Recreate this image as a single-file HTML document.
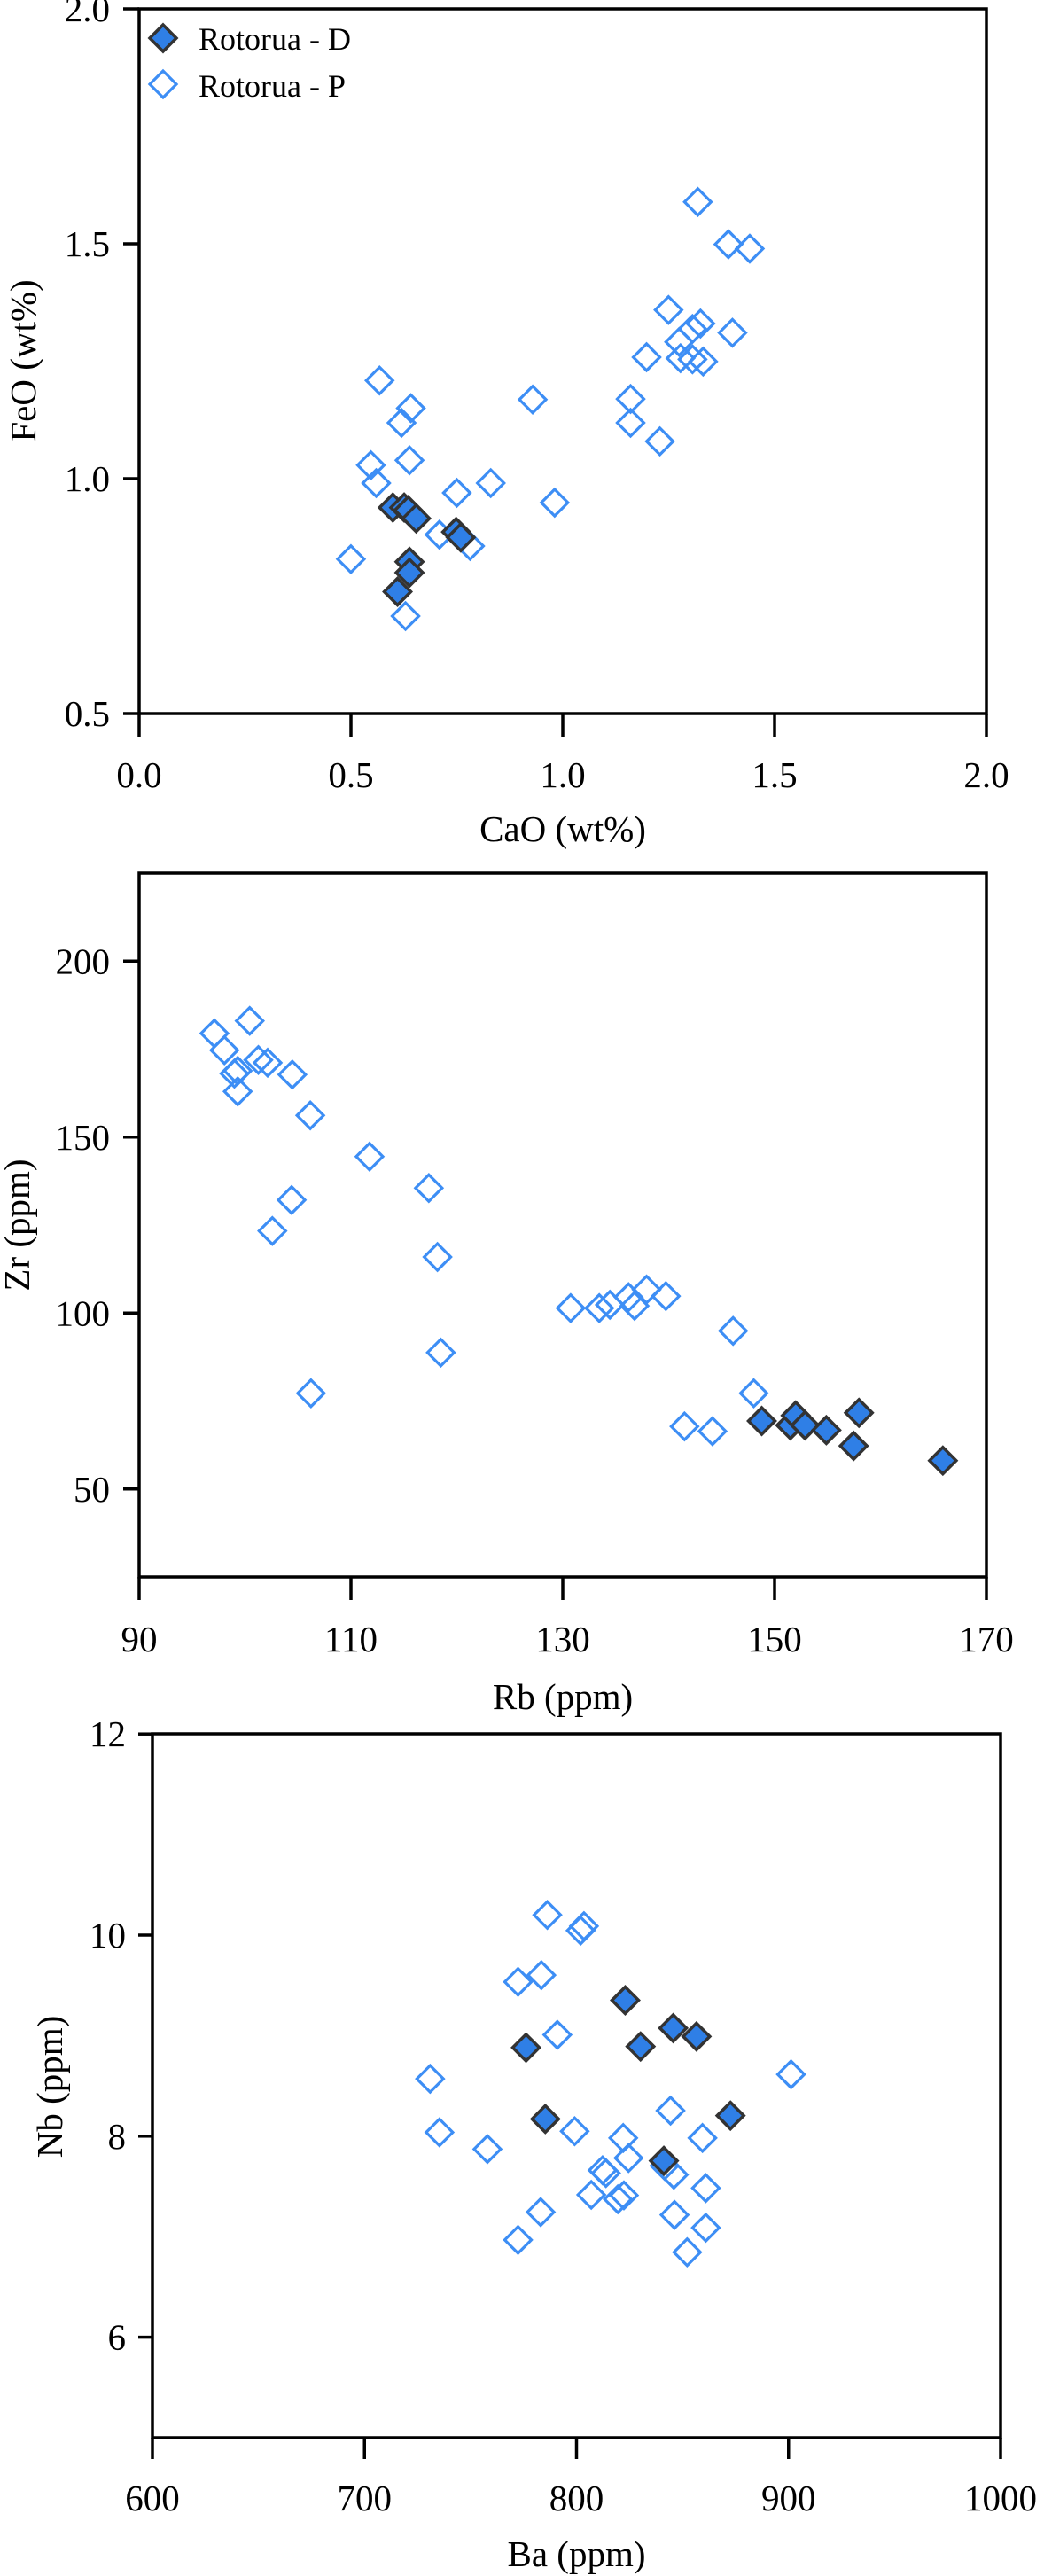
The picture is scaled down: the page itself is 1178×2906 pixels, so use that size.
<!DOCTYPE html>
<html><head><meta charset="utf-8"><style>
html,body{margin:0;padding:0;background:#fff;}
svg{display:block;}
text{font-family:"Liberation Serif","Times New Roman",serif;}
</style></head><body>
<svg id="s" width="1178" height="2906" viewBox="0 0 1178 2906" xmlns="http://www.w3.org/2000/svg" font-family="Liberation Serif, serif"></svg>
<script>
const S=document.getElementById('s');let h='';
const F='font-family="Liberation Serif, serif"';
function frame(x0,x1,y0,y1,xt,yt,lenB,lenL,lx,fmtX,fmtY,xtitle,xtb,ytitle,ytx,yty,xb){
 h+=`<rect x="${x0}" y="${y0}" width="${x1-x0}" height="${y1-y0}" fill="none" stroke="#000" stroke-width="3.5"/>`;
 xt.forEach(([px,l])=>{h+=`<line x1="${px}" y1="${y1}" x2="${px}" y2="${y1+lenB}" stroke="#000" stroke-width="3.5"/><text ${F} x="${px}" y="${xb}" font-size="41" text-anchor="middle">${l}</text>`;});
 yt.forEach(([py,l])=>{h+=`<line x1="${x0}" y1="${py}" x2="${x0-lenL}" y2="${py}" stroke="#000" stroke-width="3.5"/><text ${F} x="${lx}" y="${py+14}" font-size="41" text-anchor="end">${l}</text>`;});
 h+=`<text ${F} x="${(x0+x1)/2}" y="${xtb}" font-size="41" text-anchor="middle">${xtitle}</text>`;
 h+=`<text ${F} transform="translate(${ytx},${yty}) rotate(-90)" x="0" y="14" font-size="41" text-anchor="middle">${ytitle}</text>`;
}
function dia(x,y,f){const r=15;const p=`${x},${y-r} ${x+r},${y} ${x},${y+r} ${x-r},${y}`;
 h+= f?`<polygon points="${p}" fill="#2f7fe6" stroke="#333" stroke-width="3.5" stroke-linejoin="miter"/>`:`<polygon points="${p}" fill="none" stroke="#3d8ef5" stroke-width="3.2"/>`;}
let xt=[],yt=[];
[0,0.5,1,1.5,2].forEach(v=>xt.push([157+478*v,v.toFixed(1)]));
[0.5,1,1.5,2].forEach(v=>yt.push([10+(2-v)*530,v.toFixed(1)]));
frame(157,1113,10,805,xt,yt,26,18,124,0,0,"CaO (wt%)",949,"FeO (wt%)",26,407,888);
const p1o=[[1048,372],[1094,450],[1126,458],[1004,571],[1052,596],[1040,606],[1100,613],[1020,630],[971,658],[1022,660],[1040,662],[1056,666],[570,701],[617,752],[603,779],[800,736],[947,735],[947,779],[991,813],[557,857],[615,848],[565,890],[686,908],[737,890],[833,926],[660,985],[706,1006],[527,1030],[609,1135]];
const p1f=[[590,935],[607,935],[613,940],[625,955],[685,980],[692,990],[615,1035],[615,1055],[597,1090]];
p1o.forEach(([a,b])=>dia(a/1.331,b/1.633,0));
p1f.forEach(([a,b])=>dia(a/1.331,b/1.633,1));
dia(184,43,1);dia(184,95,0);
h+=`<text ${F} x="224" y="56" font-size="36">Rotorua - D</text><text ${F} x="224" y="109" font-size="36">Rotorua - P</text>`;
xt=[];yt=[];
[90,110,130,150,170].forEach(v=>xt.push([157+(v-90)*956/80,v]));
[50,100,150,200].forEach(v=>yt.push([1779-(v-25)*3.97,v]));
frame(157,1113,985,1779,xt,yt,26,18,124,0,0,"Rb (ppm)",1928,"Zr (ppm)",19,1382,1863);
const p2o=[[322,336],[337,367],[375,313],[388,385],[402,390],[352,410],[357,405],[357,443],[439,412],[466,487],[555,563],[644,621],[438,643],[409,700],[657,748],[662,924],[467,999],[857,842],[900,842],[916,836],[944,822],[953,838],[971,808],[1000,820],[1101,884],[1132,999],[1028,1060],[1070,1069]];
const p2f=[[1144,1050],[1187,1058],[1195,1040],[1209,1058],[1241,1067],[1290,1035],[1282,1096],[1416,1123]];
p2o.forEach(([a,b])=>dia(a/1.331,960+b/1.633,0));
p2f.forEach(([a,b])=>dia(a/1.331,960+b/1.633,1));
xt=[];yt=[];
[600,700,800,900,1000].forEach(v=>xt.push([172+(v-600)*957/400,v]));
[6,8,10,12].forEach(v=>yt.push([2750-(v-5)*113.4,v]));
frame(172,1129,1956,2750,xt,yt,24,16,142,0,0,"Ba (ppm)",2895,"Nb (ppm)",56,2354,2832);
const p3o=[[822,382],[872,410],[877,402],[778,502],[813,490],[837,597],[646,676],[660,772],[732,802],[863,770],[936,782],[944,818],[905,840],[910,845],[888,884],[928,892],[937,885],[812,915],[778,965],[1007,733],[1055,782],[998,832],[1012,848],[1060,872],[1013,920],[1060,943],[1032,987],[1188,668]];
const p3f=[[790,620],[819,748],[939,535],[962,618],[1011,585],[1046,600],[997,823],[1097,742]];
p3o.forEach(([a,b])=>dia(a/1.331,1920+b/1.59,0));
p3f.forEach(([a,b])=>dia(a/1.331,1920+b/1.59,1));
S.innerHTML=h;
</script>
</body></html>
